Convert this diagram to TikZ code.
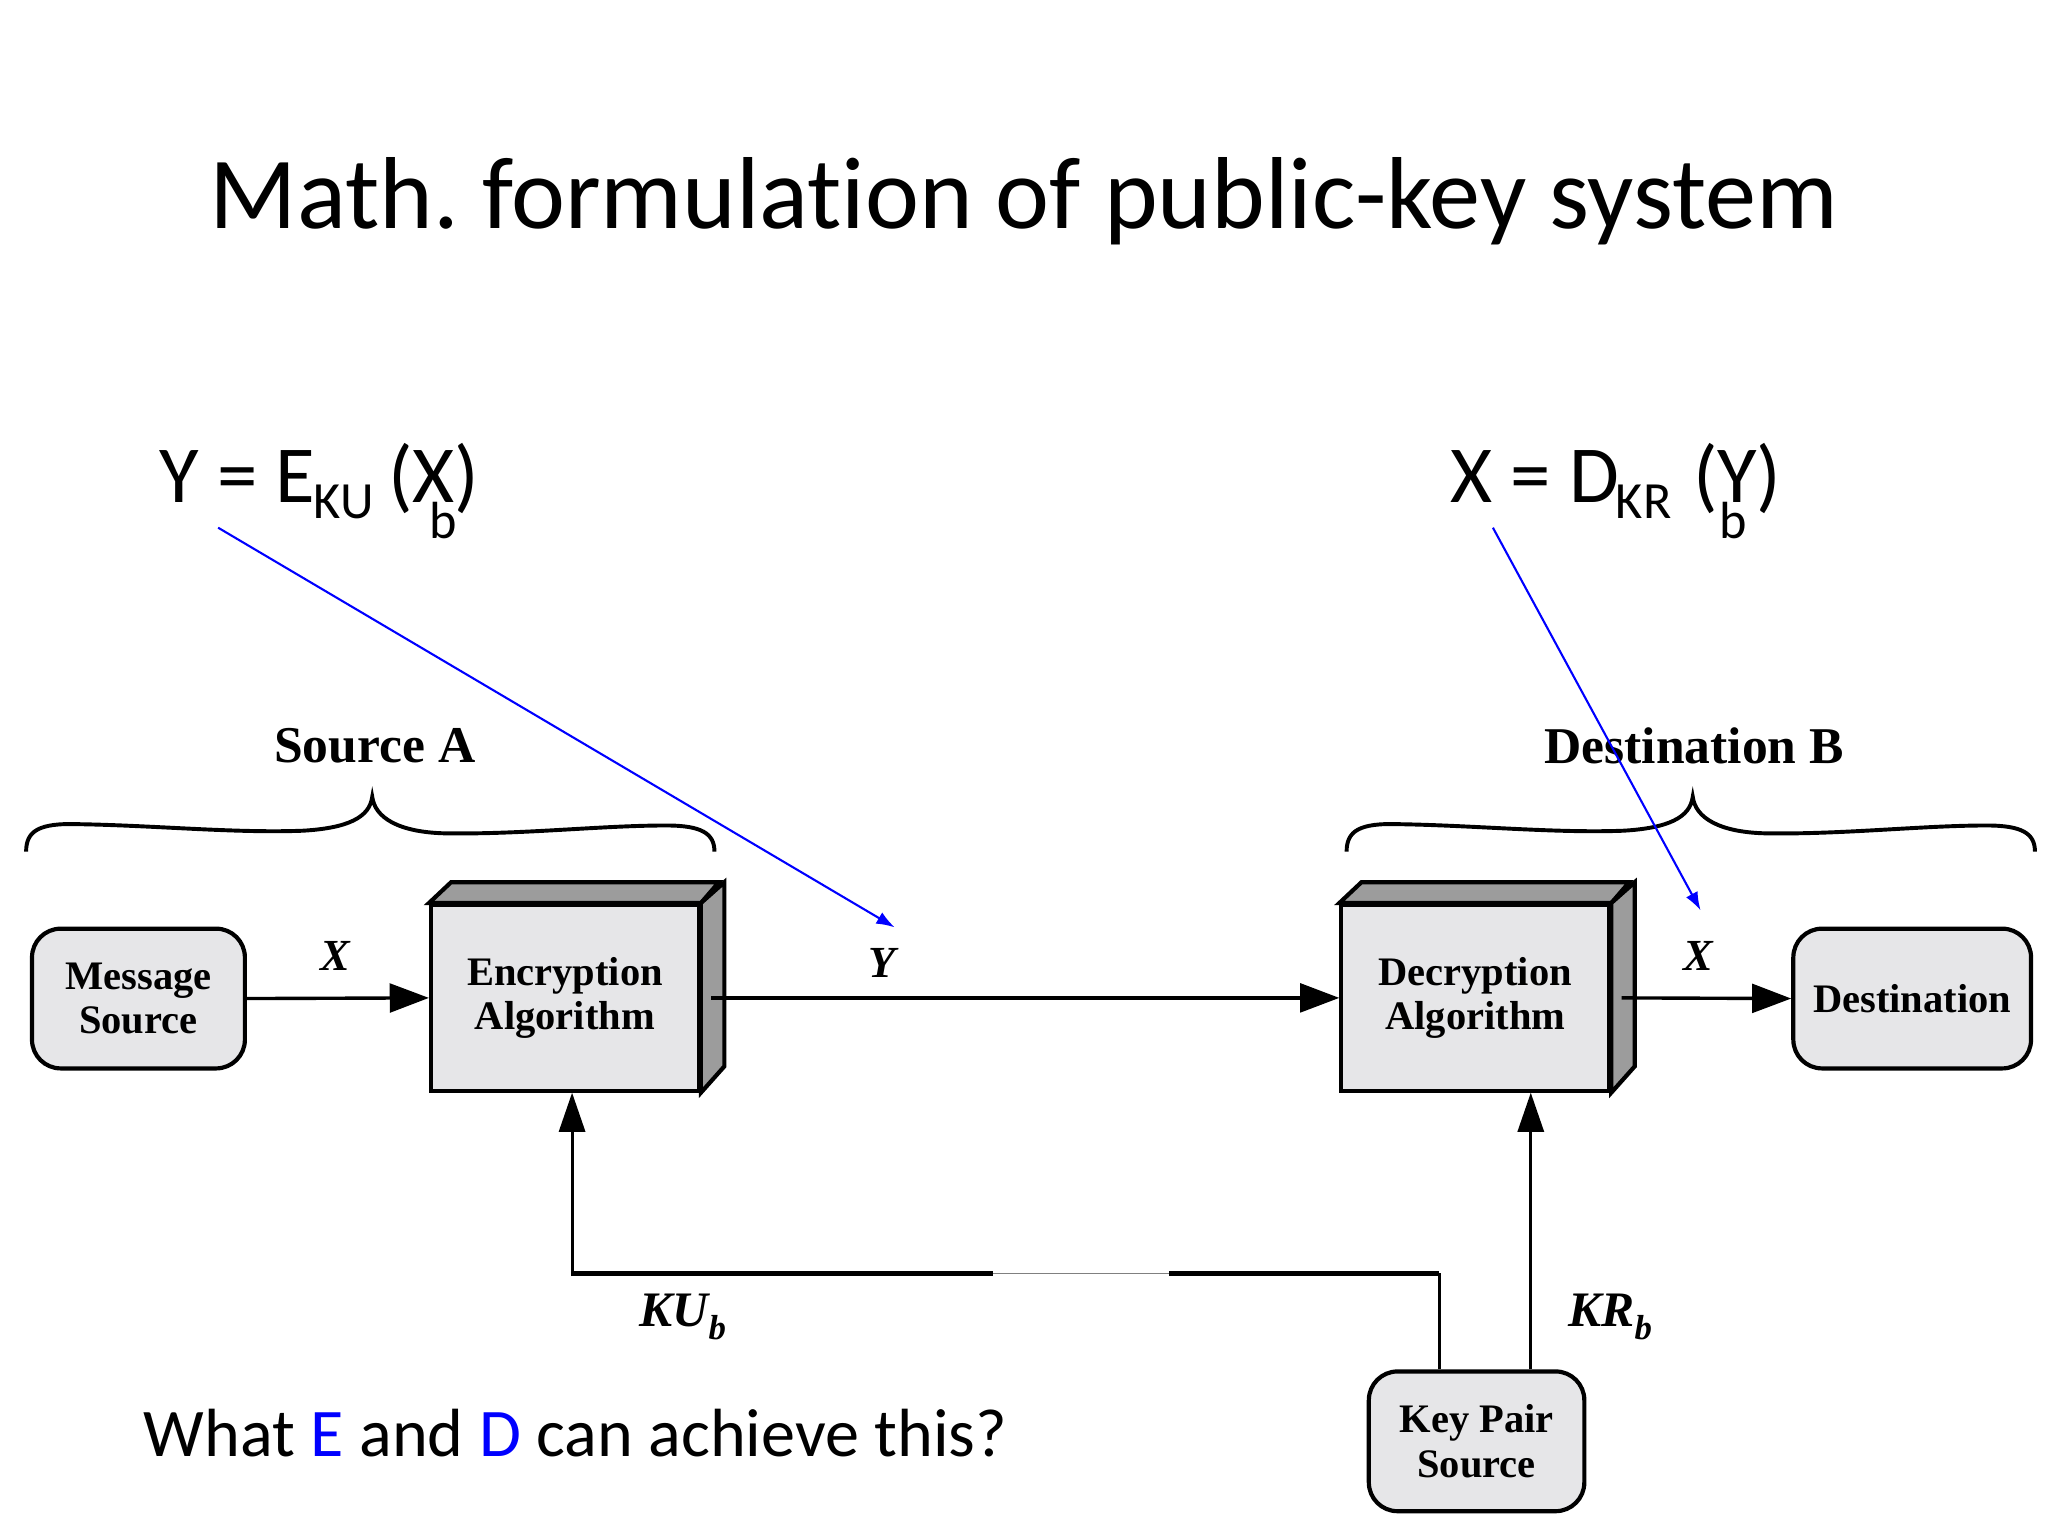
\documentclass[tikz,border=0pt]{standalone}
\usepackage{fontspec}
\setmainfont[Ligatures={NoCommon}]{Carlito}
\newfontfamily\tms{Liberation Serif}
\usetikzlibrary{arrows.meta}
\frenchspacing
\definecolor{boxfill}{HTML}{E6E6E8}
\definecolor{boxdark}{HTML}{9C9C9C}
\definecolor{eqblue}{HTML}{0000FF}
\newcommand{\eqsubfont}{\fontsize{40}{42}\selectfont}
\tikzset{
  x=1pt, y=-1pt,
  roundbox/.style={draw, line width=3.2pt, fill=boxfill, rounded corners=22pt, inner sep=0pt, font=\tms\bfseries\fontsize{31}{34}\selectfont, align=center},
  frontbox/.style={draw, line width=3.2pt, fill=boxfill, inner sep=0pt, minimum width=205pt, minimum height=142pt, font=\tms\bfseries\fontsize{31}{34}\selectfont, align=center},
  dark/.style={draw, line width=3.2pt, fill=boxdark, line join=miter},
  flow/.style={line width=2.6pt, -{Triangle[length=30pt,width=22pt]}},
  lbl/.style={font=\tms\bfseries\itshape\fontsize{34}{36}\selectfont, inner sep=0pt},
  keylbl/.style={font=\tms\bfseries\itshape\fontsize{38}{40}\selectfont, inner sep=0pt},
  grp/.style={font=\tms\bfseries\fontsize{39.5}{42}\selectfont, inner sep=0pt},
  brc/.style={line width=3pt},
  eq/.style={font=\fontsize{62}{66}\selectfont, inner sep=0pt, anchor=base west},
  pointer/.style={draw=eqblue, line width=1.6pt, -{Latex[length=14pt,width=10pt]}},
}
\begin{document}
\begin{tikzpicture}
\useasboundingbox (0,0) rectangle (1568,1176);
% title
\node[font=\fontsize{78.3}{84}\selectfont, inner sep=0pt, anchor=base] (title) at (784,175) {Math. formulation of public-key system};
% equations
\node[eq] (eqL) at (122,385) {\rlap{Y = E}\hspace*{118pt}\rlap{\raisebox{-12pt}{\eqsubfont KU}}\hspace*{57pt}\rlap{(X)}\hspace*{32pt}\raisebox{-27pt}{\eqsubfont b}\hspace*{4pt}};
\node[eq] (eqR) at (1110,385) {\rlap{X = D}\hspace*{127pt}\rlap{\raisebox{-12pt}{\eqsubfont KR}}\hspace*{59pt}\rlap{(Y)}\hspace*{20pt}\raisebox{-27pt}{\eqsubfont b}\hspace*{16pt}};
% group labels
\node[grp] (srcA) at (287,571) {Source A};
\node[grp] (dstB) at (1297,571) {Destination B};
% braces
\draw[brc] (20,652) .. controls (20,636) and (30,630) .. (60,631) .. controls (120,632) and (180,638) .. (232,636) .. controls (266,634) and (283,626) .. (285,610) .. controls (287,626) and (305,637) .. (340,638) .. controls (400,639) and (460,632) .. (510,632) .. controls (537,632) and (547,638) .. (547,652);
\draw[brc] (1031,652) .. controls (1031,636) and (1041,630) .. (1071,631) .. controls (1131,632) and (1191,638) .. (1243,636) .. controls (1277,634) and (1294,626) .. (1296,610) .. controls (1298,626) and (1316,637) .. (1351,638) .. controls (1411,639) and (1471,632) .. (1521,632) .. controls (1548,632) and (1558,638) .. (1558,652);
% boxes
\node[roundbox, minimum width=163pt, minimum height=107pt] (msg) at (106,764.5) {Message\\Source};
\node[roundbox, minimum width=182pt, minimum height=107pt] (dst) at (1464,764.5) {Destination};
\node[roundbox, minimum width=165pt, minimum height=107pt] (kp) at (1130.5,1103.5) {Key Pair\\Source};
\node[frontbox] (enc) at (432.5,764) {Encryption\\Algorithm};
\node[frontbox] (dec) at (1129.5,764) {Decryption\\Algorithm};
% 3D faces
\foreach \b in {enc,dec}{
  \draw[dark] (\b.north west) -- ++(17,-16) -- ++(205,0) -- (\b.north east) -- cycle;
  \draw[dark] (\b.north east) -- ++(18,-16) -- ++(0,141) -- (\b.south east) -- cycle;
}
% flow
\draw[flow] (msg.east) -- (enc.west);
\draw[flow] ([xshift=8pt]enc.east) -- (dec.west);
\draw[flow] ([xshift=8pt]dec.east) -- (dst.west);
\coordinate (kuA) at (1102,975);
\coordinate (kuB) at (438,975);
\draw[line width=2.2pt] (kp.north -| kuA) -- (kuA);
\draw[line width=4.2pt] (kuA) -- (895,975);
\draw[line width=1pt, draw=gray] (895,975) -- (760,975);
\draw[line width=4.2pt] (760,975) -- (kuB);
\draw[line width=2.2pt, -{Triangle[length=30pt,width=20pt]}] ([yshift=-2pt]kuB) -- (kuB |- enc.south);
\draw[line width=2.2pt, -{Triangle[length=30pt,width=20pt]}] (kp.north -| 1172,0) -- (dec.south -| 1172,0);
% labels
\node[lbl] (lx1) at (257,732) {X};
\node[lbl] (ly) at (675,737) {Y};
\node[lbl] (lx2) at (1300,732) {X};
\node[keylbl] (lku) at (523,1008) {KU\textsubscript{\itshape b}};
\node[keylbl] (lkr) at (1233,1008) {KR\textsubscript{\itshape b}};
% question
\node[font=\fontsize{52.2}{56}\selectfont, inner sep=0pt, anchor=base west] (q) at (110,1115) {What \textcolor{eqblue}{E} and \textcolor{eqblue}{D} can achieve this?};
% pointers
\coordinate (p1s) at (167,404);
\coordinate (p1e) at (685,710);
\coordinate (p2s) at (1143,404);
\coordinate (p2e) at (1302,697);
\draw[pointer] (p1s) -- (p1e);
\draw[pointer] (p2s) -- (p2e);
\end{tikzpicture}
\end{document}
